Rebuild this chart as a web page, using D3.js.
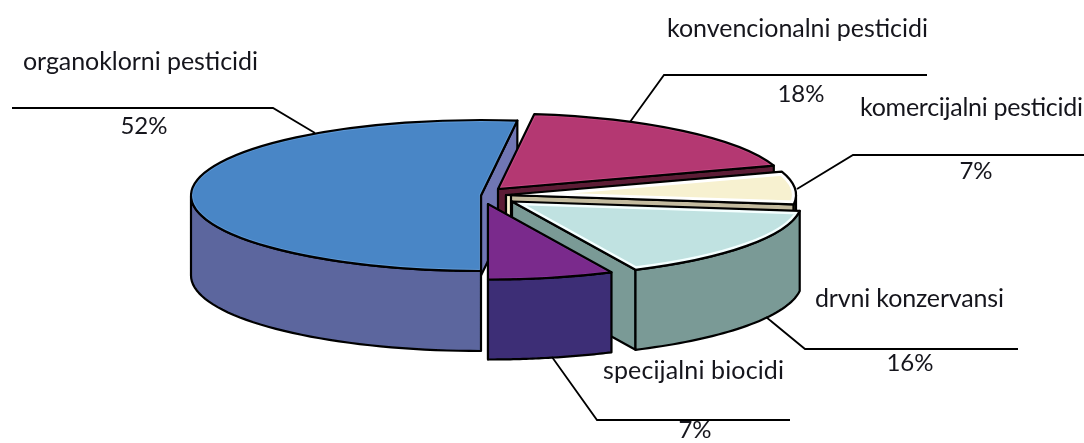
<!DOCTYPE html>
<html>
<head>
<meta charset="utf-8">
<script src="https://cdn.jsdelivr.net/npm/d3@7"></script>
<style>
    html, body { margin: 0; padding: 0; background: #fff; overflow: hidden; }
    text { font-family: Lato, "Open Sans", sans-serif; fill: #15151c; }
</style>
</head>
<body>
<div id="chart"></div>
<script>
const categories = ["organoklorni pesticidi", "konvencionalni pesticidi", "komercijalni pesticidi", "drvni konzervansi", "specijalni biocidi"];
const shares = [52, 18, 7, 16, 7];
const shareLabels = ["52%", "18%", "7%", "16%", "7%"];

// slice styling, same order as categories
const topColors = ["#4a86c6", "#b43872", "#f7f1d0", "#c0e2e1", "#7a2a8c"];
const edgeColors = ["#6f76b4", "#5c1f35", "#c4bb9f", "#7a9a96", "#3e2f76"];
const wallColors = ["#5b669e", "#5c1f35", "#d8d0a8", "#7a9a96", "#3e2f76"];
const glowColors = ["#5f9ad8", "#c84a84", "#ffffff", "#f4ffff", "#8a38a0"];
const glowWidths = [4, 4, 8, 7, 3];

// where each exploded slice has its apex
const apexes = [[481, 195.5], [498, 189], [506, 195], [512, 201.5], [488, 204]];
// the cream slice shows a thin lip left of its cut wall
const lipWidths = [0, 0, 5, 0, 0];
// label layout: text x/baseline/width, share x/baseline, leader line
const labelPos = [[23, 70], [667, 37], [860, 116], [815, 307], [603, 379]];
const labelWidths = [235, 261, 223, 189, 181];
const sharePos = [[144, 134], [801, 102], [976, 179], [910, 371], [695, 438]];
const leaders = [
    [[12, 108], [273, 108], [315, 133]],
    [[927, 75], [664, 75], [630, 122]],
    [[1084, 155], [853, 155], [797, 189]],
    [[1018, 349], [805, 349], [766, 317]],
    [[790, 420], [597, 420], [552, 357]]
];

const width = 1084, height = 443;
const radius = 290, flatten = 75.5 / 290, depth = 80;

const svg = d3.select("#chart").append("svg")
    .attr("width", width)
    .attr("height", height)
    .style("display", "block");

const defs = svg.append("defs");
defs.append("filter").attr("id", "soft")
    .append("feGaussianBlur").attr("stdDeviation", 0.45);

const pie = d3.pie().sort(null).startAngle(-Math.PI).endAngle(Math.PI);
const arc = d3.arc().innerRadius(0).outerRadius(radius);
const line = d3.line();
const slices = pie(shares);

const rim = (a, c) => [c[0] + radius * Math.sin(a), c[1] - radius * flatten * Math.cos(a)];
const drop = p => [p[0], p[1] + depth];

const pieG = svg.append("g").attr("filter", "url(#soft)");

function face(pts, fill) {
    pieG.append("path")
        .attr("d", line(pts) + "Z")
        .attr("fill", fill)
        .attr("stroke", "#000")
        .attr("stroke-width", 2.2)
        .attr("stroke-linejoin", "round");
}

slices.forEach((s, i) => {
    const c = apexes[i];

    // cut wall on the clockwise side of the slice
    const e = rim(s.endAngle, c);
    face([c, e, drop(e), drop(c)], edgeColors[i]);

    if (lipWidths[i] > 0) {
        const l = [c[0] + lipWidths[i], c[1]];
        face([c, l, drop(l), drop(c)], topColors[i]);
    }

    // outer wall, only the part facing the viewer
    const ranges = [
        [Math.max(s.startAngle, Math.PI / 2), s.endAngle],
        [s.startAngle, Math.min(s.endAngle, -Math.PI / 2)]
    ];
    ranges.forEach(([from, to]) => {
        if (to <= from) return;
        const upper = d3.range(0, 41).map(k => rim(from + (to - from) * k / 40, c));
        face(upper.concat(upper.slice().reverse().map(drop)), wallColors[i]);
    });

    // top face with its light inner bevel
    const clipId = "top" + i;
    const d = arc(s);
    const tf = `translate(${c[0]},${c[1]}) scale(1,${flatten})`;
    defs.append("clipPath").attr("id", clipId)
        .append("path").attr("d", d).attr("transform", tf);
    pieG.append("path").attr("d", d).attr("transform", tf).attr("fill", topColors[i]);
    pieG.append("g")
        .attr("clip-path", `url(#${clipId})`)
        .append("path").attr("d", d).attr("transform", tf)
        .attr("fill", "none")
        .attr("stroke", glowColors[i])
        .attr("stroke-width", glowWidths[i])
        .attr("vector-effect", "non-scaling-stroke");
    pieG.append("path").attr("d", d).attr("transform", tf)
        .attr("fill", "none")
        .attr("stroke", "#000")
        .attr("stroke-width", 2.2)
        .attr("stroke-linejoin", "round")
        .attr("vector-effect", "non-scaling-stroke");
});

svg.selectAll(".leader")
    .data(leaders)
    .enter()
    .append("path")
    .attr("class", "leader")
    .attr("d", d => line(d))
    .attr("fill", "none")
    .attr("stroke", "#000")
    .attr("stroke-width", 1.8);

svg.selectAll(".cat")
    .data(categories)
    .enter()
    .append("text")
    .attr("class", "cat")
    .attr("x", (d, i) => labelPos[i][0])
    .attr("y", (d, i) => labelPos[i][1])
    .attr("font-size", 25)
    .attr("textLength", (d, i) => labelWidths[i])
    .attr("lengthAdjust", "spacing")
    .text(d => d);

svg.selectAll(".share")
    .data(shareLabels)
    .enter()
    .append("text")
    .attr("class", "share")
    .attr("x", (d, i) => sharePos[i][0])
    .attr("y", (d, i) => sharePos[i][1])
    .attr("text-anchor", "middle")
    .attr("font-size", 24)
    .text(d => d);
</script>
</body>
</html>
